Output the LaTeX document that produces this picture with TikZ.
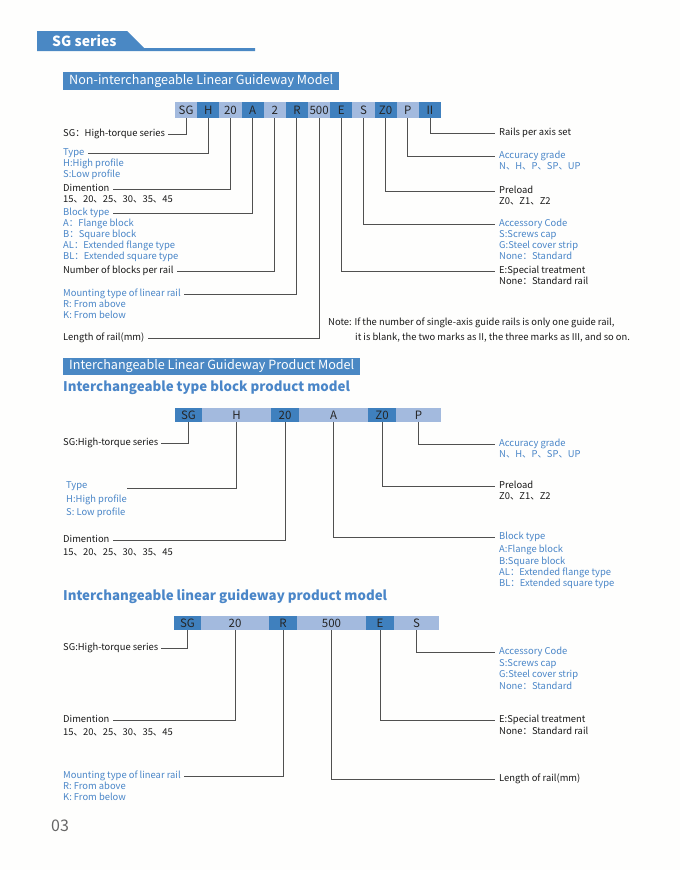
\documentclass[tikz,border=0pt]{standalone}
\usepackage{fontspec}
\setmainfont{Noto Sans CJK SC}
\definecolor{dcell}{HTML}{3F80BE}
\definecolor{lcell}{HTML}{A3BADE}
\definecolor{banner}{HTML}{4A88C4}
\definecolor{bluetext}{HTML}{4A86C8}
\definecolor{linegray}{HTML}{505050}
\definecolor{bg}{HTML}{FEFEFD}
\tikzset{
  txt/.style={anchor=west, inner sep=0pt, font=\fontsize{9.4}{11}\selectfont, text height=6.7pt, text depth=1.8pt, text=black!90},
  btxt/.style={txt, text=bluetext},
  lead/.style={draw=linegray, line width=0.9pt},
  cell/.style={inner sep=0pt, minimum height=16pt, font=\fontsize{11.5}{13}\selectfont, text=black!85},
  c1/.style={fill=lcell},
  c0/.style={fill=dcell},
  headtxt/.style={anchor=west, inner sep=0pt, font=\fontsize{13.3}{16}\bfseries\selectfont, text=bluetext},
  bannertxt/.style={anchor=west, inner sep=0pt, font=\fontsize{12.6}{14}\selectfont, text=white},
}
\begin{document}
\begin{tikzpicture}[x=1pt,y=-1pt]
\useasboundingbox (0,0) rectangle (680,870);
\fill[bg] (0,0) rectangle (680,870);

% ===== header =====
\fill[banner] (37,31) -- (127,31) -- (144,48) -- (255,48) -- (255,51) -- (37,51) -- cycle;
\node[anchor=west, inner sep=0pt, font=\fontsize{14}{16}\bfseries\selectfont, text=white] (title) at (52,41) {SG series};

% ===== section 1 =====
\fill[banner] (63,72) rectangle (339,90);
\node[bannertxt] (ban1) at (69,81) {Non-interchangeable Linear Guideway Model};

\foreach \t [count=\i] in {SG,H,20,A,2,R,500,E,S,Z0,P,II}{
  \pgfmathtruncatemacro\m{mod(\i,2)}
  \node[cell, c\m, minimum width=22.17pt] (a\i) at ({175+22.17*(\i-0.5)},110) {\t};
}

\node[txt] (sg1) at (63,134) {SG：High-torque series};
\node[btxt] (type1) at (63,153) {Type};
\node[btxt] (type1b) at (63,164) {H:High profile};
\node[btxt] (type1c) at (63,175) {S:Low profile};
\node[txt] (dim1) at (63,189) {Dimention};
\node[txt] (dim1b) at (63,200) {15、20、25、30、35、45};
\node[btxt] (blk1) at (63,213) {Block type};
\node[btxt] (blk1b) at (63,224) {A：Flange block};
\node[btxt] (blk1c) at (63,235) {B：Square block};
\node[btxt] (blk1d) at (63,246) {AL：Extended flange type};
\node[btxt] (blk1e) at (63,257) {BL：Extended square type};
\node[txt] (num1) at (63,271) {Number of blocks per rail};
\node[btxt] (mnt1) at (63,294) {Mounting type of linear rail};
\node[btxt] (mnt1b) at (63,305) {R: From above};
\node[btxt] (mnt1c) at (63,316) {K: From below};
\node[txt] (len1) at (63,338) {Length of rail(mm)};

\node[txt] (rail1) at (499,133) {Rails per axis set};
\node[btxt] (acc1) at (499,156) {Accuracy grade};
\node[btxt] (acc1b) at (499,167) {N、H、P、SP、UP};
\node[txt] (pre1) at (499,191) {Preload};
\node[txt] (pre1b) at (499,202) {Z0、Z1、Z2};
\node[btxt] (accs1) at (499,224) {Accessory Code};
\node[btxt] (accs1b) at (499,235) {S:Screws cap};
\node[btxt] (accs1c) at (499,246) {G:Steel cover strip};
\node[btxt] (accs1d) at (499,257) {None：Standard};
\node[txt] (spec1) at (499,271) {E:Special treatment};
\node[txt] (spec1b) at (499,282) {None：Standard rail};

\node[txt] (note1) at (328,323) {Note: If the number of single-axis guide rails is only one guide rail,};
\node[txt] (note2) at (355,338) {it is blank, the two marks as II, the three marks as III, and so on.};

\draw[lead] (a1.south) |- ([xshift=3pt]sg1.east);
\draw[lead] (a2.south) |- ([xshift=3pt]type1.east);
\draw[lead] (a3.south) |- ([xshift=3pt]dim1.east);
\draw[lead] (a4.south) |- ([xshift=3pt]blk1.east);
\draw[lead] (a5.south) |- ([xshift=3pt]num1.east);
\draw[lead] (a6.south) |- ([xshift=3pt]mnt1.east);
\draw[lead] (a7.south) |- ([xshift=3pt]len1.east);
\draw[lead] (a8.south) |- ([xshift=-4pt]spec1.west);
\draw[lead] (a9.south) |- ([xshift=-4pt]accs1.west);
\draw[lead] (a10.south) |- ([xshift=-4pt]pre1.west);
\draw[lead] (a11.south) |- ([xshift=-4pt]acc1.west);
\draw[lead] (a12.south) |- ([xshift=-4pt]rail1.west);

% ===== section 2 =====
\fill[banner] (63,358) rectangle (360,375);
\node[bannertxt] (ban2) at (69,366.5) {Interchangeable Linear Guideway Product Model};
\node[headtxt] (head2) at (63,388) {Interchangeable type block product model};

\node[cell, c0, minimum height=14pt, minimum width=27pt] (b1) at (188.5,415) {SG};
\node[cell, c1, minimum height=14pt, minimum width=69pt] (b2) at (236.5,415) {H};
\node[cell, c0, minimum height=14pt, minimum width=28pt] (b3) at (285,415) {20};
\node[cell, c1, minimum height=14pt, minimum width=69pt] (b4) at (333.5,415) {A};
\node[cell, c0, minimum height=14pt, minimum width=28pt] (b5) at (382,415) {Z0};
\node[cell, c1, minimum height=14pt, minimum width=45pt] (b6) at (418.5,415) {P};

\node[txt] (sg2) at (63,443) {SG:High-torque series};
\node[btxt] (type2) at (66,486) {Type};
\node[btxt] (type2b) at (66,500) {H:High profile};
\node[btxt] (type2c) at (66,513) {S: Low profile};
\coordinate (type2end) at (127,488);
\node[txt] (dim2) at (63,540) {Dimention};
\node[txt] (dim2b) at (63,553) {15、20、25、30、35、45};

\node[btxt] (acc2) at (499,444) {Accuracy grade};
\node[btxt] (acc2b) at (499,455) {N、H、P、SP、UP};
\node[txt] (pre2) at (499,486) {Preload};
\node[txt] (pre2b) at (499,497) {Z0、Z1、Z2};
\node[btxt] (blk2) at (499,537) {Block type};
\node[btxt] (blk2b) at (499,550) {A:Flange block};
\node[btxt] (blk2c) at (499,562) {B:Square block};
\node[btxt] (blk2d) at (499,573) {AL：Extended flange type};
\node[btxt] (blk2e) at (499,584) {BL：Extended square type};

\draw[lead] (b1.south) |- ([xshift=3pt]sg2.east);
\draw[lead] (b2.south) |- (type2end);
\draw[lead] (b3.south) |- ([xshift=3pt]dim2.east);
\draw[lead] (b4.south) |- ([xshift=-4pt]blk2.west);
\draw[lead] (b5.south) |- ([xshift=-4pt]pre2.west);
\draw[lead] (b6.south) |- ([xshift=-4pt]acc2.west);

% ===== section 3 =====
\node[headtxt] (head3) at (63,597) {Interchangeable linear guideway product model};

\node[cell, c0, minimum height=14pt, minimum width=27pt] (d1) at (187.5,623) {SG};
\node[cell, c1, minimum height=14pt, minimum width=68pt] (d2) at (235,623) {20};
\node[cell, c0, minimum height=14pt, minimum width=28pt] (d3) at (283,623) {R};
\node[cell, c1, minimum height=14pt, minimum width=69pt] (d4) at (331.5,623) {500};
\node[cell, c0, minimum height=14pt, minimum width=28pt] (d5) at (380,623) {E};
\node[cell, c1, minimum height=14pt, minimum width=45pt] (d6) at (416.5,623) {S};

\node[txt] (sg3) at (63,648) {SG:High-torque series};
\node[txt] (dim3) at (63,720) {Dimention};
\node[txt] (dim3b) at (63,733) {15、20、25、30、35、45};
\node[btxt] (mnt3) at (63,776) {Mounting type of linear rail};
\node[btxt] (mnt3b) at (63,787) {R: From above};
\node[btxt] (mnt3c) at (63,798) {K: From below};

\node[btxt] (accs3) at (499,652) {Accessory Code};
\node[btxt] (accs3b) at (499,664) {S:Screws cap};
\node[btxt] (accs3c) at (499,675) {G:Steel cover strip};
\node[btxt] (accs3d) at (499,687) {None：Standard};
\node[txt] (spec3) at (499,720) {E:Special treatment};
\node[txt] (spec3b) at (499,732) {None：Standard rail};
\node[txt] (len3) at (499,779) {Length of rail(mm)};

\draw[lead] (d1.south) |- ([xshift=3pt]sg3.east);
\draw[lead] (d2.south) |- ([xshift=3pt]dim3.east);
\draw[lead] (d3.south) |- ([xshift=3pt]mnt3.east);
\draw[lead] (d4.south) |- ([xshift=-4pt]len3.west);
\draw[lead] (d5.south) |- ([xshift=-4pt]spec3.west);
\draw[lead] (d6.south) |- ([xshift=-4pt]accs3.west);

\node[anchor=west, inner sep=0pt, font=\fontsize{16}{18}\selectfont, text=black!60] (page) at (51,826) {03};
\end{tikzpicture}
\end{document}
